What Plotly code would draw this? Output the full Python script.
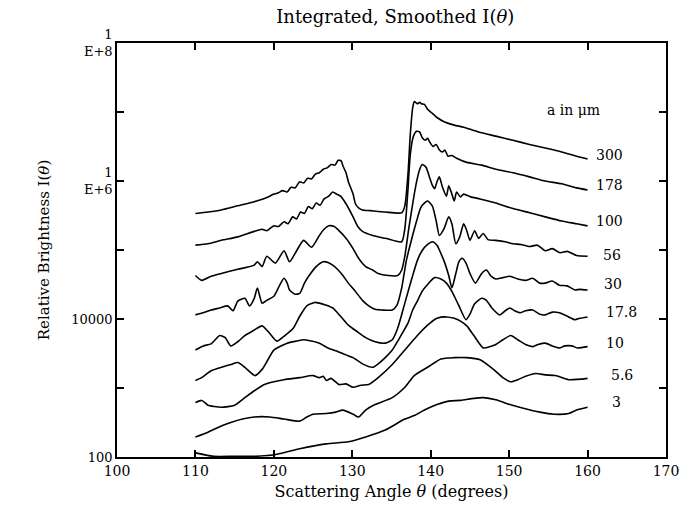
import plotly.graph_objects as go

# Each curve: list of (scattering angle in degrees, log10 of relative brightness I)
curve_300 = [(110.0, 5.53), (111.6, 5.55), (113.3, 5.58), (115.4, 5.64), (117.5, 5.70), (119.1, 5.76),
             (120.0, 5.81), (120.6, 5.83), (121.1, 5.86), (121.7, 5.84), (122.2, 5.91), (122.7, 5.90),
             (123.3, 5.99), (123.8, 5.97), (124.3, 6.04), (124.8, 6.03), (125.3, 6.10), (125.8, 6.12),
             (126.3, 6.17), (126.8, 6.19), (127.3, 6.24), (127.8, 6.23), (128.2, 6.30), (128.6, 6.29),
             (128.8, 6.22), (129.2, 6.12), (129.5, 5.99), (130.1, 5.81), (130.4, 5.67), (130.8, 5.61),
             (131.3, 5.58), (132.3, 5.57), (134.2, 5.55), (136.3, 5.54), (136.7, 5.64), (137.1, 6.10),
             (137.4, 6.68), (137.7, 7.06), (137.9, 7.15), (138.3, 7.12), (138.6, 7.14), (138.8, 7.12),
             (139.2, 7.11), (139.6, 7.04), (140.1, 6.99), (140.8, 6.92), (141.7, 6.86), (143.0, 6.81),
             (144.2, 6.78), (146.1, 6.71), (148.3, 6.65), (150.5, 6.59), (152.6, 6.53), (154.9, 6.47),
             (156.7, 6.42), (158.6, 6.36), (160.0, 6.32)]

curve_178 = [(110.0, 5.07), (111.6, 5.09), (113.3, 5.14), (115.4, 5.19), (117.5, 5.27), (118.5, 5.30),
             (119.1, 5.28), (120.0, 5.35), (120.6, 5.34), (121.3, 5.41), (121.8, 5.38), (122.4, 5.48),
             (122.9, 5.45), (123.4, 5.55), (123.9, 5.53), (124.4, 5.63), (124.9, 5.60), (125.4, 5.68),
             (125.9, 5.65), (126.4, 5.74), (127.0, 5.78), (127.5, 5.84), (128.0, 5.81), (128.5, 5.78),
             (129.2, 5.67), (130.1, 5.48), (130.7, 5.34), (131.3, 5.27), (132.6, 5.21), (134.2, 5.17),
             (136.3, 5.12), (136.7, 5.31), (137.1, 5.88), (137.4, 6.39), (137.8, 6.65), (138.2, 6.72),
             (138.6, 6.71), (138.9, 6.63), (139.3, 6.59), (139.6, 6.62), (139.9, 6.56), (140.3, 6.50),
             (140.7, 6.53), (141.1, 6.45), (141.5, 6.42), (141.8, 6.45), (142.2, 6.36), (142.7, 6.37),
             (143.3, 6.33), (144.6, 6.27), (146.5, 6.23), (148.3, 6.17), (150.5, 6.12), (152.6, 6.06),
             (154.6, 6.00), (156.7, 5.96), (158.6, 5.90), (160.0, 5.87)]

curve_100 = [(110.0, 4.63), (110.8, 4.56), (112.0, 4.62), (113.3, 4.66), (115.4, 4.72), (117.5, 4.78),
             (117.9, 4.83), (118.5, 4.76), (119.1, 4.91), (120.2, 4.81), (121.3, 4.99), (122.0, 4.83),
             (122.9, 4.99), (123.8, 5.14), (124.8, 5.04), (125.8, 5.21), (126.4, 5.30), (127.0, 5.35),
             (127.7, 5.34), (128.3, 5.28), (129.2, 5.17), (130.1, 5.02), (130.8, 4.88), (131.7, 4.76),
             (132.6, 4.71), (133.3, 4.66), (134.6, 4.63), (135.8, 4.63), (136.3, 4.71), (136.7, 4.91),
             (137.2, 5.31), (137.7, 5.67), (138.2, 5.99), (138.6, 6.17), (138.9, 6.24), (139.4, 6.20),
             (139.8, 6.07), (140.2, 5.94), (140.5, 5.89), (140.8, 5.99), (141.1, 6.06), (141.5, 5.91),
             (142.0, 5.78), (142.3, 5.93), (142.7, 5.81), (143.0, 5.71), (143.3, 5.84), (143.8, 5.77),
             (144.2, 5.81), (145.1, 5.77), (146.3, 5.74), (148.3, 5.68), (150.5, 5.60), (152.6, 5.54),
             (154.6, 5.48), (156.7, 5.42), (158.6, 5.38), (160.0, 5.35)]

curve_56 = [(110.0, 4.06), (111.0, 4.09), (112.0, 4.13), (113.1, 4.16), (114.1, 4.19), (114.8, 4.12),
            (115.4, 4.26), (116.3, 4.30), (116.9, 4.19), (117.5, 4.30), (117.9, 4.45), (118.5, 4.23),
            (119.1, 4.27), (120.0, 4.33), (120.7, 4.48), (121.3, 4.59), (121.7, 4.52), (122.0, 4.42),
            (122.7, 4.36), (123.3, 4.37), (123.9, 4.52), (124.5, 4.63), (125.4, 4.76), (126.3, 4.83),
            (126.9, 4.82), (127.5, 4.78), (128.2, 4.71), (128.8, 4.63), (129.5, 4.52), (130.4, 4.40),
            (131.3, 4.27), (132.1, 4.19), (132.9, 4.14), (133.8, 4.13), (135.1, 4.13), (135.7, 4.20),
            (136.3, 4.45), (136.9, 4.85), (137.6, 5.17), (138.2, 5.42), (138.8, 5.63), (139.6, 5.71),
            (140.2, 5.64), (140.7, 5.42), (141.1, 5.21), (141.7, 5.31), (142.3, 5.48), (142.7, 5.38),
            (143.2, 5.09), (143.7, 5.19), (144.2, 5.38), (144.6, 5.28), (145.0, 5.14), (145.6, 5.28),
            (146.1, 5.17), (146.7, 5.24), (147.3, 5.15), (148.3, 5.14), (149.5, 5.12), (150.5, 5.09),
            (151.5, 5.08), (152.6, 5.05), (153.6, 5.07), (154.6, 4.99), (155.5, 5.02), (156.5, 4.96),
            (157.4, 4.98), (158.6, 4.92), (160.0, 4.91)]

curve_30 = [(110.0, 3.55), (111.0, 3.61), (112.0, 3.64), (113.1, 3.76), (113.8, 3.73), (114.5, 3.61),
            (115.4, 3.67), (116.3, 3.76), (117.5, 3.84), (118.5, 3.90), (119.4, 3.80), (120.4, 3.68),
            (121.4, 3.76), (122.5, 3.87), (123.3, 4.04), (124.2, 4.19), (125.2, 4.24), (125.8, 4.23),
            (126.7, 4.20), (127.5, 4.16), (128.5, 4.04), (129.5, 3.91), (130.7, 3.81), (131.7, 3.73),
            (132.9, 3.67), (134.2, 3.65), (135.1, 3.70), (135.8, 3.87), (136.7, 4.23), (137.6, 4.59),
            (138.3, 4.85), (138.9, 4.99), (139.6, 5.08), (140.2, 5.12), (140.8, 5.07), (141.3, 4.95),
            (141.8, 4.81), (142.3, 4.63), (142.7, 4.45), (143.2, 4.66), (143.6, 4.83), (144.0, 4.88),
            (144.5, 4.81), (145.0, 4.66), (145.7, 4.52), (146.5, 4.66), (147.1, 4.71), (147.7, 4.62),
            (148.3, 4.58), (149.2, 4.60), (150.1, 4.62), (151.1, 4.58), (152.1, 4.56), (153.0, 4.59),
            (153.9, 4.52), (154.6, 4.52), (155.5, 4.55), (156.4, 4.49), (157.4, 4.48), (158.4, 4.42),
            (159.0, 4.43), (160.0, 4.42)]

curve_17_8 = [(110.0, 3.11), (110.8, 3.15), (112.0, 3.25), (113.3, 3.30), (114.5, 3.34), (115.4, 3.37),
              (116.3, 3.30), (117.6, 3.18), (118.5, 3.27), (119.1, 3.38), (120.0, 3.55), (121.7, 3.65),
              (122.9, 3.68), (123.8, 3.70), (124.8, 3.68), (125.8, 3.65), (126.9, 3.58), (127.9, 3.54),
              (129.2, 3.48), (130.1, 3.44), (131.3, 3.35), (132.6, 3.30), (133.3, 3.35), (134.2, 3.44),
              (135.1, 3.55), (135.8, 3.68), (136.4, 3.80), (137.1, 3.94), (137.7, 4.13), (138.3, 4.26),
              (138.9, 4.40), (139.6, 4.50), (140.5, 4.60), (141.3, 4.58), (142.0, 4.52), (142.7, 4.40),
              (143.6, 4.19), (144.5, 3.99), (145.0, 4.07), (145.6, 4.22), (146.5, 4.30), (147.1, 4.27),
              (147.8, 4.16), (148.8, 4.06), (149.5, 4.12), (150.1, 4.16), (150.7, 4.12), (151.4, 4.09),
              (152.1, 4.12), (153.0, 4.13), (153.9, 4.07), (154.6, 4.06), (155.5, 4.10), (156.4, 4.09),
              (157.4, 4.04), (158.4, 3.99), (159.0, 4.01), (160.0, 4.03)]

curve_10 = [(110.0, 2.79), (110.8, 2.82), (111.3, 2.78), (111.6, 2.75), (113.3, 2.72), (115.0, 2.75),
            (116.3, 2.86), (117.5, 2.96), (118.8, 3.05), (120.0, 3.09), (121.3, 3.12), (123.3, 3.15),
            (125.0, 3.18), (125.8, 3.15), (126.3, 3.17), (126.7, 3.11), (127.3, 3.14), (128.3, 3.05),
            (129.2, 3.06), (130.1, 3.01), (131.1, 3.04), (132.1, 3.05), (133.3, 3.15), (135.1, 3.34),
            (136.7, 3.55), (138.3, 3.76), (139.6, 3.91), (140.8, 4.01), (142.0, 4.03), (143.0, 4.01),
            (143.8, 3.97), (144.6, 3.90), (145.5, 3.76), (146.7, 3.58), (147.6, 3.60), (148.3, 3.63),
            (149.2, 3.70), (150.2, 3.76), (151.1, 3.70), (152.1, 3.63), (153.0, 3.60), (153.7, 3.63),
            (154.6, 3.65), (155.5, 3.61), (156.4, 3.58), (157.1, 3.61), (158.0, 3.61), (158.7, 3.58),
            (160.0, 3.60)]

curve_5_6 = [(110.0, 2.29), (111.6, 2.36), (113.3, 2.45), (114.5, 2.50), (116.0, 2.55), (117.5, 2.58),
             (119.5, 2.58), (121.3, 2.55), (123.3, 2.52), (124.2, 2.58), (125.0, 2.62), (126.7, 2.63),
             (127.9, 2.65), (128.8, 2.68), (130.1, 2.62), (130.8, 2.58), (131.7, 2.68), (132.9, 2.76),
             (135.1, 2.86), (136.7, 3.01), (137.9, 3.18), (139.6, 3.30), (141.3, 3.42), (143.0, 3.44),
             (144.6, 3.44), (146.3, 3.41), (148.0, 3.27), (149.2, 3.15), (150.2, 3.09), (151.1, 3.12),
             (152.1, 3.17), (153.4, 3.21), (154.6, 3.19), (155.9, 3.18), (157.6, 3.12), (160.0, 3.14)]

curve_3 = [(110.0, 2.06), (112.3, 2.01), (114.9, 2.01), (117.6, 2.01), (120.4, 2.04), (123.3, 2.12),
           (126.7, 2.19), (129.5, 2.22), (131.7, 2.29), (134.2, 2.39), (136.7, 2.55), (137.9, 2.60),
           (139.2, 2.68), (140.8, 2.76), (142.3, 2.81), (143.8, 2.82), (145.5, 2.85), (146.7, 2.86),
           (148.3, 2.83), (150.1, 2.76), (151.7, 2.71), (153.9, 2.65), (155.7, 2.62), (157.6, 2.63),
           (158.6, 2.68), (160.0, 2.72)]

radii_labels = ["300", "178", "100", "56", "30", "17.8", "10", "5.6", "3"]
curves = [curve_300, curve_178, curve_100, curve_56, curve_30, curve_17_8, curve_10, curve_5_6, curve_3]

x_ticks = [100, 110, 120, 130, 140, 150, 160, 170]
y_tickvals = [1e2, 1e3, 1e4, 1e5, 1e6, 1e7, 1e8]
y_ticktext = ["100", "", "10000", "", "1<br>E+6", "", "1<br>E+8"]

FONT = "DejaVu Serif"

fig = go.Figure()
for name, pts in zip(radii_labels, curves):
    fig.add_trace(go.Scatter(
        x=[p[0] for p in pts],
        y=[10 ** p[1] for p in pts],
        mode="lines",
        line=dict(color="black", width=1.6, shape="spline", smoothing=0.6),
        name=name,
        showlegend=False,
        hoverinfo="skip",
    ))

# label positions (paper coords) for each curve
label_pos = [(0.868, 0.729), (0.868, 0.657), (0.868, 0.571), (0.882, 0.487), (0.884, 0.417),
             (0.887, 0.350), (0.887, 0.276), (0.896, 0.199), (0.898, 0.134)]
annotations = []
for name, (px, py) in zip(radii_labels, label_pos):
    annotations.append(dict(x=px, y=py, xref="paper", yref="paper", text=name, showarrow=False,
                            xanchor="left", yanchor="middle",
                            font=dict(family=FONT, size=14, color="black")))
annotations.append(dict(x=0.780, y=0.839, xref="paper", yref="paper", text="a in μm", showarrow=False,
                        xanchor="left", yanchor="middle", font=dict(family=FONT, size=14, color="black")))

fig.update_layout(
    width=691, height=510,
    margin=dict(l=117, r=15, t=43, b=50),
    paper_bgcolor="white", plot_bgcolor="white",
    font=dict(family=FONT, size=14, color="black"),
    title=dict(text="Integrated, Smoothed I(<i>θ</i>)", x=0.572, xanchor="center", y=0.968, yanchor="middle",
               font=dict(family=FONT, size=18, color="black")),
    annotations=annotations,
)
fig.update_xaxes(
    range=[100, 170], tickvals=x_ticks, ticktext=[str(v) for v in x_ticks],
    ticks="inside", ticklen=7, tickwidth=1.5, tickcolor="black",
    showline=True, linecolor="black", linewidth=1.5, mirror="ticks",
    showgrid=False, zeroline=False,
    tickfont=dict(family=FONT, size=14, color="black"),
    title=dict(text="Scattering Angle <i>θ</i> (degrees)", font=dict(family=FONT, size=16, color="black"),
               standoff=8),
)
fig.update_yaxes(
    type="log", range=[2, 8], tickvals=y_tickvals, ticktext=y_ticktext,
    ticks="inside", ticklen=7, tickwidth=1.5, tickcolor="black",
    showline=True, linecolor="black", linewidth=1.5, mirror="ticks",
    showgrid=False, zeroline=False,
    tickfont=dict(family=FONT, size=13, color="black"),
    title=dict(text="Relative Brightness I(<i>θ</i>)", font=dict(family=FONT, size=15, color="black"),
               standoff=18),
)

fig.write_html("out.html")
